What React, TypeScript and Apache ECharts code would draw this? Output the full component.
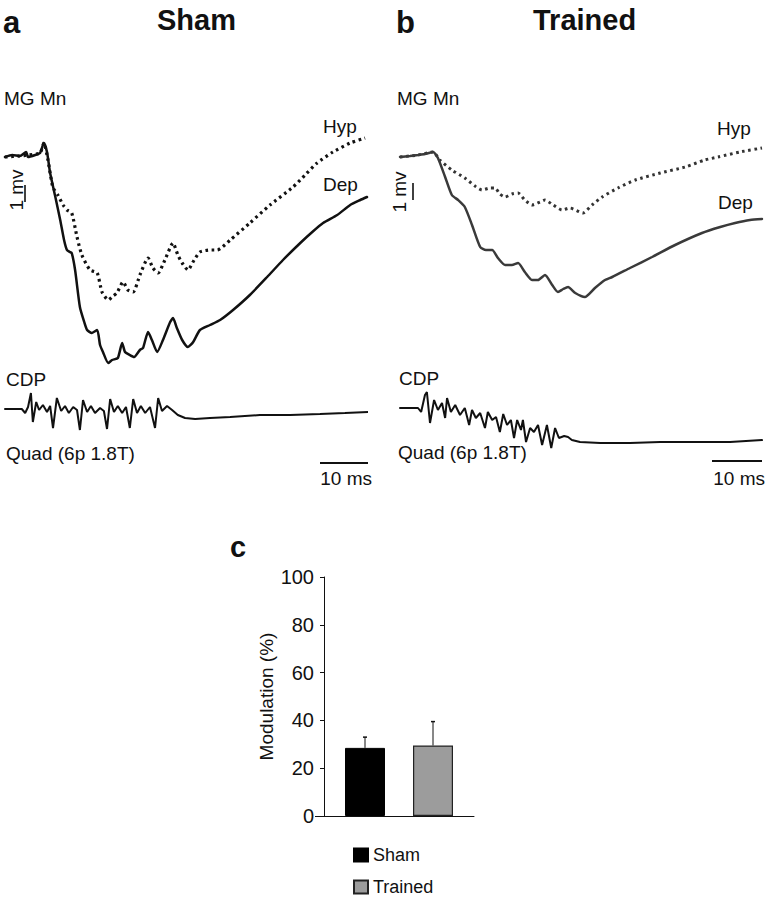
import React, { useEffect, useRef } from "react";
import * as echarts from "echarts";

// ---- Panel a (Sham): MG Mn traces, time in ms, potential in mV (relative to baseline)
const shamDep: [number, number][] = [
  [0, -0.05], [1.5, 0.05], [3.1, 0], [4.4, 0.2], [4.8, -0.05], [6.3, 0.05], [7.3, 0.15], [8.1, 0.65],
  [8.75, 0.2], [9.4, -0.85], [10.4, -1.95], [11.5, -3.2], [12.3, -4.2], [12.9, -4.7], [13.5, -4.8],
  [13.9, -4.85], [14.6, -5.7], [15.6, -7.55], [16.5, -8.3], [17.1, -8.7], [18.1, -8.85], [19.2, -8.7],
  [19.8, -9.45], [20.4, -9.8], [21.5, -10.35], [22.3, -10.2], [23.5, -10.1], [24.4, -9.35], [25, -9.8],
  [26, -9.95], [26.9, -10.05], [28.1, -9.7], [28.75, -9.6], [29.8, -8.8], [30.6, -9.2], [31.7, -9.8],
  [32.9, -9.2], [34.4, -8.3], [35, -8.1], [35.8, -8.6], [36.9, -9.2], [38.1, -9.55], [39.2, -9.3],
  [40.6, -8.7], [42.7, -8.45], [44.8, -8.2], [47.5, -7.7], [51, -6.95], [54.6, -6.05], [57.9, -5.2],
  [61.5, -4.35], [64, -3.8], [66.25, -3.35], [69.2, -2.95], [71.9, -2.45], [74, -2.2], [75.4, -2.05],
];
const shamHyp: [number, number][] = [
  [0, -0.05], [3.1, 0], [4.8, 0.05], [7.3, 0.15], [8.1, 0.65], [8.95, -0.2], [9.95, -1.55], [11, -1.95],
  [12.1, -2.45], [12.9, -2.7], [13.9, -2.85], [15, -4.05], [16, -4.95], [17.7, -5.7], [19.2, -5.85],
  [20.2, -6.8], [21.5, -7.2], [22.5, -7], [23.3, -6.85], [24.6, -6.3], [25.6, -6.7], [26.7, -6.8],
  [28.1, -5.95], [29.8, -5.1], [30.8, -5.6], [31.9, -5.85], [33.3, -5.2], [35, -4.35], [36, -4.95],
  [36.9, -5.35], [38.1, -5.7], [39.4, -5.2], [40.6, -4.8], [42.7, -4.7], [44.2, -4.7], [46.9, -4.2],
  [51, -3.35], [55.2, -2.45], [60, -1.55], [62.5, -0.95], [65, -0.35], [68.3, 0.2], [71.9, 0.65], [75, 0.9],
];

// ---- Panel b (Trained)
const trainedDep: [number, number][] = [
  [0, -0.05], [2.1, 0], [3.75, 0.05], [5.2, 0.1], [6.9, 0.2], [7.9, -0.1], [9.4, -1.05], [10.8, -1.95],
  [12.1, -2.2], [13.5, -2.55], [15, -3.45], [16.7, -4.55], [17.9, -4.7], [19.2, -4.7], [20.4, -5.1],
  [21.9, -5.45], [23.3, -5.45], [24.6, -5.35], [26, -5.8], [27.5, -6.2], [28.75, -6.2], [30.2, -5.95],
  [31.7, -6.45], [32.9, -6.8], [34, -6.65], [35, -6.55], [36.5, -6.85], [38.5, -7.05], [40.6, -6.6],
  [42.7, -6.2], [44.2, -6.05], [47.9, -5.6], [52.5, -5.05], [57.3, -4.45], [62.9, -3.85], [66.7, -3.55],
  [69.8, -3.35], [72.9, -3.2], [75.4, -3.15],
];
const trainedHyp: [number, number][] = [
  [0, -0.05], [3.75, 0.05], [6.9, 0.2], [8.3, -0.2], [10.8, -0.7], [13.5, -1.1], [15.6, -1.5], [17.1, -1.7],
  [18.75, -1.6], [19.8, -1.6], [20.8, -1.9], [21.9, -2.05], [23.3, -1.9], [24.6, -1.85], [26, -2.2],
  [27.5, -2.45], [29.2, -2.3], [30.2, -2.2], [31.9, -2.45], [33.75, -2.7], [35.4, -2.6], [38.1, -2.85],
  [40, -2.45], [42.1, -2.05], [45.4, -1.6], [49, -1.2], [54.2, -0.85], [59.4, -0.55], [63.5, -0.2],
  [66.25, -0.05], [70.8, 0.2], [75.4, 0.4],
];

// ---- CDP (cord dorsum potential) traces, arbitrary units
const shamCdp: [number, number][] = [
  [0, 0], [3.5, 0], [4.2, -0.2], [4.8, 0.1], [5.4, 0.8], [5.8, -0.65], [6.5, 0.35], [7.1, -0.05], [7.9, 0.2],
  [8.75, -0.15], [9.4, 0.15], [10, -0.95], [10.8, 0.55], [11.7, -0.1], [12.5, 0.15], [13.3, -0.2], [14.2, 0.1],
  [15, -0.05], [15.6, -1.05], [16.25, 0.45], [17.1, -0.15], [17.9, 0.15], [18.75, -0.2], [19.8, 0.05],
  [20.6, -0.1], [21.25, -1.0], [21.9, 0.5], [22.7, -0.15], [23.5, 0.15], [24.4, -0.2], [25.2, 0.1], [26, -0.95],
  [26.7, 0.5], [27.5, -0.2], [28.3, 0.15], [29.2, -0.2], [30.2, 0.1], [31.25, -0.95], [31.9, 0.55],
  [32.7, -0.1], [33.75, 0.15], [34.8, -0.05], [36, -0.3], [37.5, -0.45], [39.6, -0.5], [42.7, -0.45],
  [46.9, -0.4], [53.1, -0.3], [59.4, -0.3], [65.6, -0.25], [70.8, -0.2], [75.6, -0.15],
];
const trainedCdp: [number, number][] = [
  [0, 0], [3.75, 0], [4.4, -0.2], [5.2, 0.65], [5.6, 0.8], [6.25, -0.75], [7.1, 0.4], [7.9, -0.1], [8.75, 0.25],
  [9.4, -0.5], [9.8, 0.5], [10.6, -0.2], [11.5, 0.15], [12.5, -0.35], [13.5, 0], [14.4, -0.85], [15, -0.1],
  [15.8, -0.5], [16.7, -0.25], [17.7, -1.0], [18.3, -0.2], [19.2, -0.6], [20, -0.45], [20.8, -1.2],
  [21.5, -0.3], [22.3, -0.85], [23.1, -0.6], [23.75, -1.5], [24.4, -0.6], [25.2, -1.1], [25.6, -0.6],
  [26.25, -1.7], [27.1, -1.0], [27.9, -1.2], [28.75, -0.85], [29.6, -1.85], [30.6, -0.85], [31.5, -2.0],
  [32.3, -1.0], [33.1, -1.5], [34.2, -1.4], [35, -1.45], [35.8, -1.6], [37.5, -1.7], [41.7, -1.75],
  [47.9, -1.75], [54.2, -1.7], [62.5, -1.7], [68.75, -1.7], [75.4, -1.6],
];

// ---- Panel c: modulation (%)
const groups = ["Sham", "Trained"];
const modulation = [28.5, 29.5];
const modulationErr = [4.5, 10];
const yTicks = [0, 20, 40, 60, 80, 100];

const FONT = '"Liberation Sans", Arial, Helvetica, sans-serif';
const INK = "#111";

function label(x: number, y: number, text: string, size: number, opts: any = {}) {
  return {
    type: "text",
    x,
    y,
    rotation: opts.rotation || 0,
    silent: true,
    style: {
      text,
      fontSize: size,
      fontFamily: FONT,
      fontWeight: opts.bold ? "bold" : "normal",
      fill: INK,
      textAlign: opts.align || "left",
      textVerticalAlign: "middle",
    },
  };
}
function seg(x1: number, y1: number, x2: number, y2: number, w = 2) {
  return { type: "line", silent: true, shape: { x1, y1, x2, y2 }, style: { stroke: INK, lineWidth: w } };
}

export default function App() {
  const ref = useRef<HTMLDivElement>(null);
  useEffect(() => {
    document.body.style.margin = "0";
    const chart = echarts.init(ref.current!, null, { renderer: "svg" });
    const hiddenX = (gi: number) => ({ type: "value", gridIndex: gi, min: 0, max: 75.4, show: false });
    const hiddenY = (gi: number, min: number, max: number) => ({ type: "value", gridIndex: gi, min, max, show: false });
    const trace = (name: string, gi: number, data: any, color: string, width: number, dotted = false, smooth: any = 0.2) => ({
      type: "line",
      name,
      xAxisIndex: gi,
      yAxisIndex: gi,
      data,
      showSymbol: false,
      symbol: "none",
      smooth,
      silent: true,
      lineStyle: { color, width, type: dotted ? [2.6, 3.6] : "solid", cap: dotted ? "butt" : "round" },
    });
    const option: any = {
      animation: false,
      backgroundColor: "#fff",
      grid: [
        { left: 5, top: 130, width: 362, height: 240 },
        { left: 400, top: 130, width: 362, height: 240 },
        { left: 5, top: 385, width: 362, height: 60 },
        { left: 400, top: 385, width: 362, height: 70 },
        { left: 324, top: 577, width: 150, height: 239 },
      ],
      xAxis: [
        hiddenX(0),
        hiddenX(1),
        hiddenX(2),
        hiddenX(3),
        {
          type: "category",
          gridIndex: 4,
          data: ["Modulation"],
          axisLine: { lineStyle: { color: INK, width: 1 } },
          axisTick: { show: false },
          axisLabel: { show: false },
        },
      ],
      yAxis: [
        hiddenY(0, -10.7, 1.3),
        hiddenY(1, -10.7, 1.3),
        hiddenY(2, -1.8, 1.2),
        hiddenY(3, -2.35, 1.15),
        {
          type: "value",
          gridIndex: 4,
          min: yTicks[0],
          max: yTicks[yTicks.length - 1],
          interval: 20,
          name: "Modulation (%)",
          nameLocation: "middle",
          nameRotate: 90,
          nameGap: 48,
          nameTextStyle: { fontSize: 19, fontFamily: FONT, color: INK },
          axisLine: { show: true, lineStyle: { color: INK, width: 1 } },
          axisTick: { show: true, length: 4, lineStyle: { color: INK } },
          axisLabel: { fontSize: 20, fontFamily: FONT, color: INK, margin: 10 },
          splitLine: { show: false },
        },
      ],
      legend: {
        data: groups,
        orient: "vertical",
        left: 353,
        top: 844,
        padding: 0,
        itemWidth: 14,
        itemHeight: 13,
        itemGap: 10,
        icon: "rect",
        textStyle: { fontSize: 18, lineHeight: 22, fontFamily: FONT, color: INK },
        selectedMode: false,
      },
      series: [
        trace("Sham Hyp", 0, shamHyp, "#111", 3.2, true),
        trace("Sham Dep", 0, shamDep, "#111", 2.5),
        trace("Trained Hyp", 1, trainedHyp, "#333", 3, true),
        trace("Trained Dep", 1, trainedDep, "#3a3a3a", 2.5),
        trace("Sham CDP", 2, shamCdp, "#111", 2, false, false),
        trace("Trained CDP", 3, trainedCdp, "#111", 2, false, false),
        {
          type: "bar",
          name: groups[0],
          xAxisIndex: 4,
          yAxisIndex: 4,
          data: [modulation[0]],
          barWidth: 40,
          barGap: "70%",
          itemStyle: { color: "#000", borderColor: "#000", borderWidth: 1 },
        },
        {
          type: "bar",
          name: groups[1],
          xAxisIndex: 4,
          yAxisIndex: 4,
          data: [modulation[1]],
          barWidth: 40,
          itemStyle: { color: "#9c9c9c", borderColor: "#222", borderWidth: 1.2 },
        },
        {
          type: "custom",
          name: "error",
          xAxisIndex: 4,
          yAxisIndex: 4,
          data: modulation.map((v, i) => [0, v, modulationErr[i]]),
          z: 5,
          renderItem: (params: any, api: any) => {
            const base = api.coord([api.value(0), api.value(1)]);
            const top = api.coord([api.value(0), api.value(1) + api.value(2)]);
            const off = params.dataIndex === 0 ? -34 : 34;
            const x = base[0] + off;
            return {
              type: "group",
              children: [
                { type: "line", shape: { x1: x, y1: base[1], x2: x, y2: top[1] }, style: { stroke: INK, lineWidth: 1 } },
                { type: "line", shape: { x1: x - 2, y1: top[1], x2: x + 2, y2: top[1] }, style: { stroke: INK, lineWidth: 1.5 } },
              ],
            };
          },
        },
      ],
      graphic: [
        label(3, 22, "a", 31, { bold: true }),
        label(157, 20, "Sham", 29, { bold: true }),
        label(396, 22, "b", 31, { bold: true }),
        label(533, 20, "Trained", 29, { bold: true }),
        label(4, 98, "MG Mn", 19),
        label(397, 98, "MG Mn", 19),
        label(323, 126, "Hyp", 19),
        label(323, 184, "Dep", 19),
        label(717, 128, "Hyp", 19),
        label(718, 202, "Dep", 19),
        label(16, 190, "1 mv", 19, { rotation: Math.PI / 2, align: "center" }),
        seg(25, 185, 25, 202, 1.6),
        label(399, 192, "1 mv", 19, { rotation: Math.PI / 2, align: "center" }),
        seg(413, 183, 413, 200, 1.6),
        label(6, 379, "CDP", 19),
        label(399, 378, "CDP", 19),
        label(6, 453, "Quad (6p 1.8T)", 19),
        label(398, 452, "Quad (6p 1.8T)", 19),
        seg(320, 463, 368, 463, 2),
        label(372, 478, "10 ms", 19, { align: "right" }),
        seg(712, 461, 762, 461, 2),
        label(765, 478, "10 ms", 19, { align: "right" }),
        label(230, 547, "c", 29, { bold: true }),
        seg(315, 816.5, 324, 816.5, 1),
      ],
    };
    chart.setOption(option);
    return () => chart.dispose();
  }, []);
  return <div ref={ref} style={{ width: 770, height: 900 }} />;
}
